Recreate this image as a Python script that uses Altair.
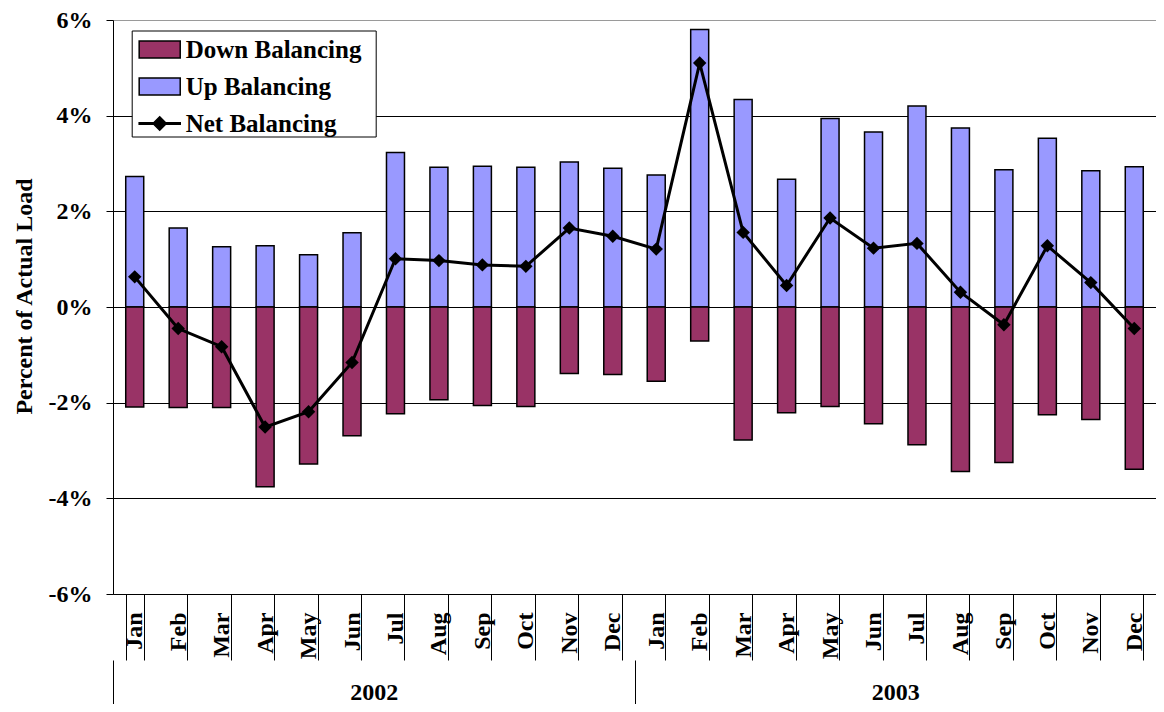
import altair as alt
import pandas as pd

months = ["Jan", "Feb", "Mar", "Apr", "May", "Jun", "Jul", "Aug", "Sep", "Oct", "Nov", "Dec"]
years = ["2002", "2003"]
up_balancing = [2.73, 1.65, 1.26, 1.28, 1.09, 1.55, 3.23, 2.92, 2.94, 2.92, 3.03, 2.90,
                2.76, 5.80, 4.34, 2.67, 3.94, 3.66, 4.20, 3.74, 2.87, 3.53, 2.85, 2.93]
down_balancing = [-2.09, -2.10, -2.10, -3.76, -3.28, -2.69, -2.23, -1.94, -2.06, -2.08, -1.39, -1.41,
                  -1.55, -0.71, -2.78, -2.21, -2.08, -2.44, -2.88, -3.44, -3.25, -2.25, -2.35, -3.39]
net_balancing = [0.63, -0.45, -0.83, -2.51, -2.19, -1.16, 1.01, 0.97, 0.88, 0.85, 1.65, 1.48,
                 1.21, 5.10, 1.56, 0.45, 1.86, 1.23, 1.33, 0.31, -0.37, 1.28, 0.51, -0.45]
series_names = ["Down Balancing", "Up Balancing", "Net Balancing"]
series_colors = ["#993366", "#9999FF", "#000000"]
y_ticks = [-6, -4, -2, 0, 2, 4, 6]

FONT = "Liberation Serif"

keys = [f"{m} {y}" for y in years for m in months]
df = pd.DataFrame({
    "key": keys,
    "up": up_balancing,
    "down": down_balancing,
    "net": net_balancing,
})
legend_df = pd.DataFrame({"series": series_names})
year_df = pd.DataFrame({"year": years})

x_axis = alt.Axis(
    labelExpr="split(datum.label, ' ')[0]", labelAngle=-90, labelAlign="right",
    labelBaseline="middle", labelPadding=-48, tickSize=66, tickBand="extent",
    tickExtra=True, domainColor="black", domainWidth=1, tickColor="black", tickWidth=1,
    labelFont=FONT, labelFontSize=24, labelFontWeight="bold", labelColor="black",
    grid=False, labelOverlap=False,
)
x_scale = alt.Scale(type="band", paddingInner=0.586, paddingOuter=0.293)


def xenc():
    return alt.X("key:N", sort=keys, title=None, scale=x_scale, axis=x_axis)


y_axis = alt.Axis(
    values=y_ticks, labelExpr="datum.value + '%'", title="Percent of Actual Load",
    grid=True,
    gridColor={"condition": {"test": "datum.value === 6", "value": "#9a9a9a"}, "value": "black"},
    gridWidth=1, domainColor="black", domainWidth=1, tickColor="black", tickSize=7,
    labelPadding=14, labelFont=FONT, labelFontSize=24, labelFontWeight="bold",
    labelColor="black", titleFont=FONT, titleFontSize=24, titleFontWeight="bold",
    titleColor="black", titlePadding=12, titleY=276,
)
y_scale = alt.Scale(domain=[-6, 6], nice=False, zero=True)


def yenc(field):
    return alt.Y(f"{field}:Q", scale=y_scale, axis=y_axis)


base = alt.Chart(df)
up_bars = base.mark_bar(color="#9999FF", stroke="black", strokeWidth=1.5).encode(x=xenc(), y=yenc("up"))
down_bars = base.mark_bar(color="#993366", stroke="black", strokeWidth=1.5).encode(x=xenc(), y=yenc("down"))
net_line = base.mark_line(color="black", strokeWidth=3).encode(x=xenc(), y=yenc("net"))
net_points = base.mark_point(shape="diamond", size=180, filled=True, color="black", opacity=1).encode(
    x=xenc(), y=yenc("net"))

rect_path = "M-1.14,-0.47H1.14V0.47H-1.14Z"
net_path = "M-1.14,-0.04H1.14V0.04H-1.14ZM0,-0.37L0.37,0L0,0.37L-0.37,0Z"
legend_layer = alt.Chart(legend_df).mark_point(filled=True, opacity=0).encode(
    color=alt.Color(
        "series:N",
        sort=series_names,
        scale=alt.Scale(domain=series_names, range=series_colors),
        legend=alt.Legend(
            title=".", titleOrient="right", titleOpacity=0, titleFontSize=10,
            titlePadding=11,
            orient="none", legendX=18.7, legendY=10.5, padding=0,
            strokeColor="black", fillColor="white", labelFont=FONT, labelFontSize=25,
            labelFontWeight="bold", labelColor="black", symbolSize=1296, rowPadding=5,
            symbolOffset=9, labelOffset=7, labelLimit=400, symbolOpacity=1,
            symbolStrokeColor="black", symbolStrokeWidth=1.5,
            symbolType={"expr": f"datum.value === 'Net Balancing' ? '{net_path}' : '{rect_path}'"},
        ),
    )
)

main = alt.layer(up_bars, down_bars, net_line, net_points, legend_layer)

year_layer = alt.Chart(year_df).mark_point(opacity=0).encode(
    x=alt.X("year:N", sort=years, title=None,
            scale=alt.Scale(type="band", paddingInner=0, paddingOuter=0),
            axis=alt.Axis(orient="bottom", offset=66, domain=False, tickSize=52,
                          tickBand="extent", tickExtra=True, tickColor="black", tickWidth=1,
                          labelAngle=0, labelBaseline="bottom", labelPadding=-8,
                          labelFont=FONT, labelFontSize=24,
                          labelFontWeight="bold", labelColor="black", grid=False)),
)

chart = alt.layer(main, year_layer).resolve_scale(x="independent").properties(
    width=1043, height=574,
    autosize=alt.AutoSizeParams(type="none"),
    padding={"left": 105, "top": 12, "right": 0, "bottom": 110},
).configure_view(stroke=None).configure(background="white")

chart.save("out.html", embed_options={"renderer": "svg", "actions": False})
